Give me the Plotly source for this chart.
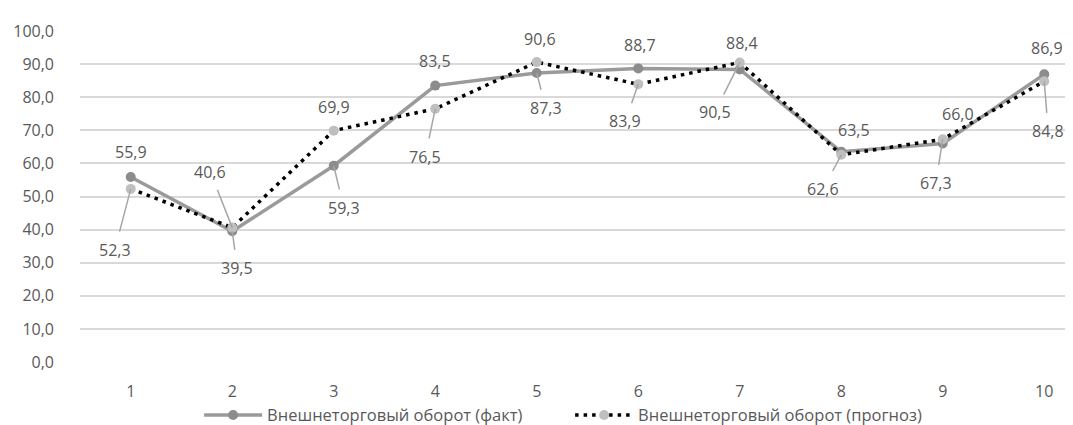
import plotly.graph_objects as go

categories = [1, 2, 3, 4, 5, 6, 7, 8, 9, 10]
fact = [55.9, 39.5, 59.3, 83.5, 87.3, 88.7, 88.4, 63.5, 66.0, 86.9]
forecast = [52.3, 40.6, 69.9, 76.5, 90.6, 83.9, 90.5, 62.6, 67.3, 84.8]
name_fact = "Внешнеторговый оборот (факт)"
name_forecast = "Внешнеторговый оборот (прогноз)"
y_ticks = [0, 10, 20, 30, 40, 50, 60, 70, 80, 90, 100]

# label placement (pixel offsets from marker, leader flag)
fact_lbl = [(0, -25, False), (5, 37, True), (10, 42, True), (0, -25, False), (9, 35, True),
            (2, -23, False), (2, -26, False), (13, -22, False), (15, -30, False), (3, -26, False)]
fc_lbl = [(-16, 61, True), (-22, -56, True), (0, -24, False), (-10, 48, True), (3, -23, False),
          (-13, 37, True), (-25, 50, True), (-18, 34, True), (-7, 44, True), (4, 50, True)]

FONT = "Open Sans"
TXT = "#595959"

fig = go.Figure()
fig.add_trace(go.Scatter(
    x=categories, y=fact, name=name_fact, mode="lines+markers",
    line=dict(color="#9a9a9a", width=3.5),
    marker=dict(color="#8c8c8c", size=10),
))
fig.add_trace(go.Scatter(
    x=categories, y=forecast, name=name_forecast, mode="lines+markers",
    line=dict(color="#000000", width=3.5, dash="3.5px,5px"),
    marker=dict(color="#bfbfbf", size=10),
))

def fmt(v):
    return f"{v:.1f}".replace(".", ",")

annotations = []
for series, lbls in ((fact, fact_lbl), (forecast, fc_lbl)):
    for c, v, (dx, dy, leader) in zip(categories, series, lbls):
        if leader:
            annotations.append(dict(
                x=c, y=v, xref="x", yref="y", text=fmt(v), showarrow=True,
                arrowhead=0, arrowwidth=1.5, arrowcolor="#a6a6a6", ax=dx, ay=dy,
                font=dict(family=FONT, size=16, color=TXT), startstandoff=6,
            ))
        else:
            annotations.append(dict(
                x=c, y=v, xref="x", yref="y", text=fmt(v), showarrow=False,
                xshift=dx, yshift=-dy,
                font=dict(family=FONT, size=16, color=TXT),
            ))

fig.update_layout(
    width=1073, height=425,
    margin=dict(l=72, r=0, t=23, b=59),
    paper_bgcolor="white", plot_bgcolor="white",
    font=dict(family=FONT, size=16, color=TXT),
    separators=", ",
    showlegend=True,
    legend=dict(orientation="h", x=0.119, xanchor="left", y=-0.161, yanchor="middle",
                font=dict(family=FONT, size=16.5, color=TXT), itemwidth=58,
                entrywidth=298, bgcolor="rgba(0,0,0,0)"),
    annotations=annotations,
    hovermode=False,
)
fig.update_xaxes(
    range=[0.5, 0.5 + 1001 / 101.5], tickvals=categories, ticktext=[str(c) for c in categories],
    showgrid=False, zeroline=False, showline=False, ticks="", ticklabelstandoff=18,
    tickfont=dict(family=FONT, size=16, color=TXT),
)
fig.update_yaxes(
    range=[0, 100], tickvals=y_ticks, tickformat=".1f",
    showgrid=True, gridcolor="#d9d9d9", gridwidth=1.5, zeroline=False, showline=False,
    ticks="", ticklabelstandoff=25, tickfont=dict(family=FONT, size=16, color=TXT),
)

fig.write_html("out.html")
